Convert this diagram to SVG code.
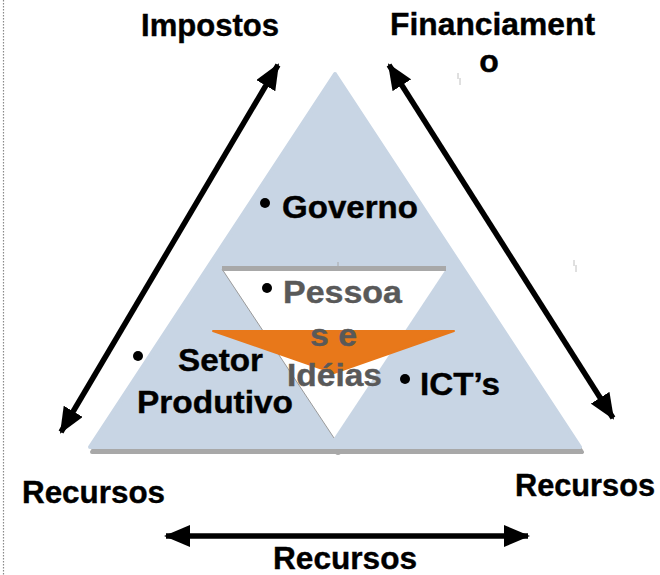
<svg xmlns="http://www.w3.org/2000/svg" width="660" height="575" viewBox="0 0 660 575">
<style>
.t{font-family:"Liberation Sans",Arial,sans-serif;font-weight:bold;font-size:32px;fill:#000;stroke:#000;stroke-width:0.4}
.g{fill:#595959;stroke:#595959}
.ln{stroke:#000;stroke-width:5.5;fill:none}
</style>
<defs>
<marker id="ah" viewBox="0 0 26 22" refX="24" refY="11" markerWidth="26" markerHeight="22" markerUnits="userSpaceOnUse" orient="auto-start-reverse">
<path d="M0,0 L26,11 L0,22 Z" fill="#000"/>
</marker>
</defs>
<rect width="660" height="575" fill="#fff"/>
<line x1="3.5" y1="0" x2="3.5" y2="575" stroke="#8a8a8a" stroke-width="1.2" stroke-dasharray="1.5,1.5"/>
<g id="pyramid">
<polygon points="337,79 582,452 92,452" fill="#a8a8a8" stroke="#a8a8a8" stroke-width="4" stroke-linejoin="round"/>
<polygon points="335,74 580,447 90,447" fill="#c8d5e4" stroke="#c8d5e4" stroke-width="4" stroke-linejoin="round"/>
<polygon points="222,269 446,269 334,438" fill="#fff"/>
<line x1="222" y1="269" x2="334" y2="438" stroke="#9a9a9a" stroke-width="1"/>
<rect x="222" y="266" width="224" height="5" fill="#a8a8a8"/>
<line x1="338" y1="262" x2="338" y2="267" stroke="#a8a8a8" stroke-width="1"/>
<circle cx="338" cy="452" r="3" fill="#a8a8a8"/>
<polygon points="213,331 454,331 334,373" fill="#e8781a" stroke="#e8781a" stroke-width="2" stroke-linejoin="round"/>
</g>
<g id="connectors">
<line class="ln" x1="61" y1="432" x2="278" y2="65" marker-start="url(#ah)" marker-end="url(#ah)"/>
<line class="ln" x1="389" y1="65" x2="613" y2="418" marker-start="url(#ah)" marker-end="url(#ah)"/>
<line class="ln" x1="166" y1="536" x2="528" y2="536" marker-start="url(#ah)" marker-end="url(#ah)"/>
</g>
<g id="marks" stroke="#c0c0c0" stroke-width="1">
<line x1="458" y1="73" x2="458" y2="79"/><line x1="460" y1="78" x2="460" y2="85"/>
<line x1="574" y1="260" x2="574" y2="266"/><line x1="576" y1="265" x2="576" y2="272"/>
</g>
<g id="impostos"><text class="t" x="141" y="36" textLength="138" lengthAdjust="spacingAndGlyphs">Impostos</text></g>
<g id="financiamento"><text class="t" x="390" y="35" textLength="205" lengthAdjust="spacingAndGlyphs">Financiament</text><text class="t" x="489" y="72" text-anchor="middle">o</text></g>
<g id="governo"><circle cx="265" cy="203" r="5" fill="#000"/><text class="t" x="282" y="217.5" textLength="136" lengthAdjust="spacingAndGlyphs">Governo</text></g>
<g id="pessoas"><circle cx="267" cy="288" r="5" fill="#000"/><text class="t g" x="283" y="303" textLength="119" lengthAdjust="spacingAndGlyphs">Pessoa</text><text class="t g" x="310" y="346" textLength="47" lengthAdjust="spacingAndGlyphs">s e</text><text class="t g" x="287" y="385.5" textLength="95" lengthAdjust="spacingAndGlyphs">Idéias</text></g>
<g id="setor"><circle cx="138" cy="356" r="5" fill="#000"/><text class="t" x="178" y="371" textLength="85" lengthAdjust="spacingAndGlyphs">Setor</text><text class="t" x="137" y="413" textLength="156" lengthAdjust="spacingAndGlyphs">Produtivo</text></g>
<g id="icts"><circle cx="405" cy="379" r="5" fill="#000"/><text class="t" x="420" y="395" textLength="80" lengthAdjust="spacingAndGlyphs">ICT’s</text></g>
<g id="rec-left"><text class="t" x="22" y="503" textLength="143" lengthAdjust="spacingAndGlyphs">Recursos</text></g>
<g id="rec-right"><text class="t" x="515" y="496" textLength="140" lengthAdjust="spacingAndGlyphs">Recursos</text></g>
<g id="rec-bottom"><text class="t" x="273" y="569" textLength="144" lengthAdjust="spacingAndGlyphs">Recursos</text></g>
</svg>
